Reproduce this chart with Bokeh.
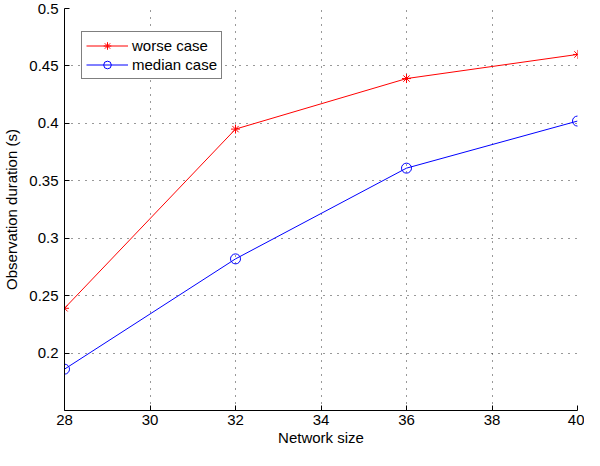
from bokeh.plotting import figure
from bokeh.embed import file_html
from bokeh.resources import INLINE
from bokeh.models import Range1d, FixedTicker, Legend, LegendItem

network_size = [28, 32, 36, 40]
worse_case = [0.239, 0.395, 0.439, 0.460]
median_case = [0.186, 0.282, 0.361, 0.402]
x_ticks = [28, 30, 32, 34, 36, 38, 40]
y_ticks = [0.2, 0.25, 0.3, 0.35, 0.4, 0.45, 0.5]

FONT = "Liberation Sans"

p = figure(width=584, height=450, output_backend="svg", toolbar_location=None,
           x_range=Range1d(28, 40), y_range=Range1d(0.15, 0.5),
           min_border_left=56, min_border_right=7, min_border_top=8, min_border_bottom=40)
p.background_fill_color = "white"
p.border_fill_color = "white"
p.outline_line_color = None

for ax in (p.xaxis[0], p.yaxis[0]):
    ax.major_tick_in = 5
    ax.major_tick_out = 0
    ax.minor_tick_in = 0
    ax.minor_tick_out = 0
    ax.axis_line_color = "black"
    ax.major_tick_line_color = "black"
    ax.major_label_text_font = FONT
    ax.major_label_text_font_size = "15px"
    ax.major_label_text_color = "black"
    ax.axis_label_text_font = FONT
    ax.axis_label_text_font_size = "15px"
    ax.axis_label_text_font_style = "normal"
    ax.axis_label_text_color = "black"

p.xaxis.ticker = FixedTicker(ticks=x_ticks)
p.yaxis.ticker = FixedTicker(ticks=y_ticks)
p.xaxis.major_label_overrides = {t: str(t) for t in x_ticks}
p.yaxis.major_label_overrides = {t: ("%g" % t) for t in y_ticks}
p.xaxis.axis_label = "Network size"
p.yaxis.axis_label = "Observation duration (s)"
p.xaxis.major_label_standoff = 4
p.yaxis.major_label_standoff = 6
p.xaxis.axis_label_standoff = 1
p.yaxis.axis_label_standoff = 6

p.xgrid.grid_line_color = "black"
p.ygrid.grid_line_color = "black"
p.xgrid.grid_line_dash = "1 6"
p.ygrid.grid_line_dash = "1 6"
p.xgrid.grid_line_alpha = 0.8
p.ygrid.grid_line_alpha = 0.8

r1 = p.line(network_size, worse_case, line_color="#ff0000", line_width=1)
m1 = p.scatter(network_size, worse_case, marker="asterisk", size=9,
               line_color="#ff0000", line_width=1)
r2 = p.line(network_size, median_case, line_color="#0000ff", line_width=1)
m2 = p.scatter(network_size, median_case, marker="circle", size=10,
               line_color="#0000ff", fill_color=None, line_width=1)

legend = Legend(items=[LegendItem(label="worse case", renderers=[r1, m1]),
                       LegendItem(label="median case", renderers=[r2, m2])],
                location=(17, 331))
legend.label_text_font = FONT
legend.label_text_font_size = "15px"
legend.label_text_color = "black"
legend.border_line_color = "black"
legend.border_line_width = 1
legend.glyph_width = 42
legend.glyph_height = 19
legend.label_height = 19
legend.spacing = 0
legend.padding = 4
legend.margin = 0
legend.label_standoff = 4
legend.background_fill_alpha = 1.0
p.add_layout(legend, "center")

open("out.html", "w").write(file_html(p, INLINE))
